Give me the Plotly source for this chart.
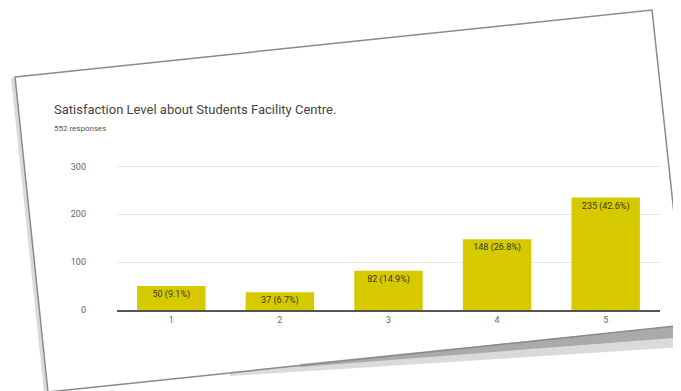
import plotly.graph_objects as go

ratings = ["1", "2", "3", "4", "5"]
counts = [50, 37, 82, 148, 235]
percents = ["9.1%", "6.7%", "14.9%", "26.8%", "42.6%"]
y_ticks = [0, 100, 200, 300]

OFF = 8  # page body margin
W, H = 681 - OFF, 391 - OFF
L, R, T, B = 117 - OFF, 21, 165 - OFF, 81


def px(x, y):
    # window pixel position -> paper coords of the plot area
    x, y = x - OFF, y - OFF
    return (x - L) / (W - L - R), (H - B - y) / (H - T - B)


def path(points):
    parts = []
    for k, (x, y) in enumerate(points):
        u, v = px(x, y)
        parts.append(("M" if k == 0 else "L") + f"{u:.4f},{v:.4f}")
    return " ".join(parts) + " Z"


card = [(15, 77), (652, 10), (686, 325), (48, 392)]
shadow_outer = [(230, 372), (686, 325), (686, 347), (230, 376)]
shadow_inner = [(300, 364), (686, 325), (686, 337), (300, 367)]
shadow_left = [(15, 77), (48, 392), (44, 393), (11, 78)]

fig = go.Figure(
    data=[
        go.Bar(
            x=ratings,
            y=counts,
            text=[f"{c} ({p})" for c, p in zip(counts, percents)],
            textposition="inside",
            insidetextanchor="end",
            textfont=dict(color="#3a3a1a", size=9, family="Roboto"),
            marker=dict(color="#d6c900", line=dict(width=0)),
            width=0.63,
            hoverinfo="skip")
    ])

fig.update_layout(
    width=W,
    height=H,
    margin=dict(l=L, r=R, t=T, b=B),
    paper_bgcolor="white",
    plot_bgcolor="rgba(0,0,0,0)",
    showlegend=False,
    font=dict(family="Roboto", color="#666"),
    xaxis=dict(
        showgrid=False,
        showline=True,
        linecolor="#555",
        linewidth=1.5,
        ticks="",
        tickfont=dict(size=9, color="#666")),
    yaxis=dict(
        range=[0, 303],
        tickvals=y_ticks,
        gridcolor="#e6e6e6",
        zeroline=False,
        showline=False,
        ticks="",
        ticklabelstandoff=30,
        tickfont=dict(size=9, color="#666")),
    annotations=[
        dict(text="Satisfaction Level about Students Facility Centre.",
             xref="paper", yref="paper", x=px(52, 0)[0], y=px(0, 110)[1],
             xanchor="left", yanchor="middle", showarrow=False,
             font=dict(size=13, color="#444", family="Roboto")),
        dict(text="552 responses",
             xref="paper", yref="paper", x=px(52, 0)[0], y=px(0, 128)[1],
             xanchor="left", yanchor="middle", showarrow=False,
             font=dict(size=8, color="#555", family="Roboto")),
    ],
    shapes=[
        dict(type="path", path=path(shadow_outer), xref="paper", yref="paper",
             fillcolor="rgba(150,150,150,0.35)", line=dict(width=0), layer="below"),
        dict(type="path", path=path(shadow_inner), xref="paper", yref="paper",
             fillcolor="rgba(110,110,110,0.45)", line=dict(width=0), layer="below"),
        dict(type="path", path=path(shadow_left), xref="paper", yref="paper",
             fillcolor="rgba(150,150,150,0.35)", line=dict(width=0), layer="below"),
        dict(type="path", path=path(card), xref="paper", yref="paper",
             fillcolor="rgba(0,0,0,0)", line=dict(color="#8a8a8a", width=1.5),
             layer="below"),
    ])

fig.write_html("out.html")
